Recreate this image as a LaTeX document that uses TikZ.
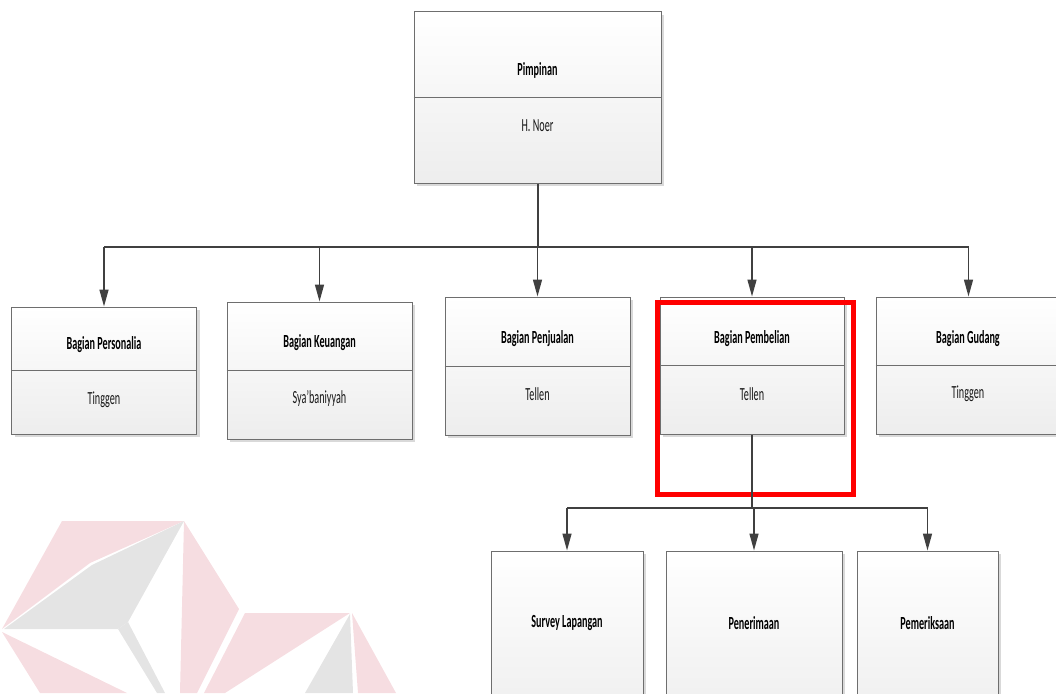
\documentclass[tikz,border=0pt]{standalone}
\usepackage{fontspec}
\setmainfont{Carlito}[FakeStretch=0.55]
\usetikzlibrary{arrows.meta,shadows}

\definecolor{wiregray}{HTML}{404040}
\definecolor{boxline}{HTML}{6E6E6E}
\definecolor{logopink}{HTML}{F6DDE1}
\definecolor{logogray}{HTML}{E4E4E4}

\tikzstyle{unit}=[draw=boxline, line width=1pt, top color=white, bottom color=black!7, inner sep=0pt,
  drop shadow={shadow xshift=3pt, shadow yshift=-3pt, fill=black!15, opacity=1}]
\tikzstyle{head}=[font=\fontsize{18.5}{20}\selectfont\bfseries, text=black]
\tikzstyle{person}=[font=\fontsize{18.5}{20}\selectfont, text=black!90]
\tikzstyle{wire}=[draw=wiregray, line width=1.5pt]
\tikzstyle{arrow}=[wire, -{Triangle[length=17pt,width=9pt]}]

\begin{document}
\begin{tikzpicture}[x=1pt, y=-1pt]
\useasboundingbox (0,0) rectangle (1056,693);

% logo in the corner
\fill[logopink] (62,521) -- (184,521) -- (90,563) -- (2,629) -- cycle;
\fill[logogray] (184,521) -- (92,565) -- (4,629) -- (118,629) -- (128,622) -- cycle;
\fill[logopink] (2,632) -- (127,693) -- (40,693) -- cycle;
\fill[logogray] (118,629) -- (128,622) -- (165,693) -- (157,693) -- cycle;
\fill[logopink] (184,521) -- (239,609) -- (197,693) -- (180,693) -- cycle;
\fill[logopink] (245,613) -- (350,613) -- (225,693) -- (204,693) -- cycle;
\fill[logogray] (350,614) -- (353,693) -- (305,693) -- cycle;
\fill[logopink] (352,613) -- (396,693) -- (358,693) -- cycle;

\node[unit, minimum width=247pt, minimum height=171pt] (pimpinan)   at (537.5,97.5)  {};
\node[unit, minimum width=185pt, minimum height=127pt] (personalia) at (104,370.5)   {};
\node[unit, minimum width=185pt, minimum height=137pt] (keuangan)   at (319.5,370.5) {};
\node[unit, minimum width=185pt, minimum height=138pt] (penjualan)  at (537.5,366)   {};
\node[unit, minimum width=184pt, minimum height=137pt] (pembelian)  at (752,365.5)   {};
\node[unit, minimum width=185pt, minimum height=137pt] (gudang)     at (968.5,365.5) {};
\node[unit, minimum width=152pt, minimum height=180pt] (survey)      at (567,641)   {};
\node[unit, minimum width=176pt, minimum height=180pt] (penerimaan)  at (754,641)   {};
\node[unit, minimum width=141pt, minimum height=180pt] (pemeriksaan) at (927.5,641) {};

\foreach \n in {pimpinan,personalia,keuangan,penjualan,pembelian,gudang}
  \draw[boxline, line width=1pt] (\n.west) -- (\n.east);

\node[head]   (pimpinanHead)   at (537.5,70)  {Pimpinan};
\node[person] (pimpinanName)   at (537.5,126) {H. Noer};
\node[head]   (personaliaHead) at (104,345)   {Bagian Personalia};
\node[person] (personaliaName) at (104,400)   {Tinggen};
\node[head]   (keuanganHead)   at (319.5,343) {Bagian Keuangan};
\node[person] (keuanganName)   at (319.5,398) {Sya'baniyyah};
\node[head]   (penjualanHead)  at (537.5,339) {Bagian Penjualan};
\node[person] (penjualanName)  at (537.5,394) {Tellen};
\node[head]   (pembelianHead)  at (752,339)   {Bagian Pembelian};
\node[person] (pembelianName)  at (752,394)   {Tellen};
\node[head]   (gudangHead)     at (968,339)   {Bagian Gudang};
\node[person] (gudangName)     at (968,394)   {Tinggen};
\node[head]   (surveyHead)      at (567,623)   {Survey Lapangan};
\node[head]   (penerimaanHead)  at (754,623)   {Penerimaan};
\node[head]   (pemeriksaanHead) at (927.5,623) {Pemeriksaan};

\coordinate (topbus) at (537.5,247);
\draw[wire, line width=2pt] (pimpinan.south) -- (topbus);
\draw[wire] (personalia.north |- topbus) -- (gudang.north |- topbus);
\foreach \n in {personalia,keuangan,penjualan,pembelian,gudang}
  \draw[arrow] (\n.north |- topbus) -- (\n.north);

\node[draw=red, line width=5pt, minimum width=196pt, minimum height=192pt] (focus) at (755.5,398.5) {};

\coordinate (subbus) at (752,508);
\draw[wire] (pembelian.south) -- (subbus);
\draw[wire] (survey.north |- subbus) -- (pemeriksaan.north |- subbus);
\foreach \n in {survey,penerimaan,pemeriksaan}
  \draw[arrow] (\n.north |- subbus) -- (\n.north);

\end{tikzpicture}
\end{document}
